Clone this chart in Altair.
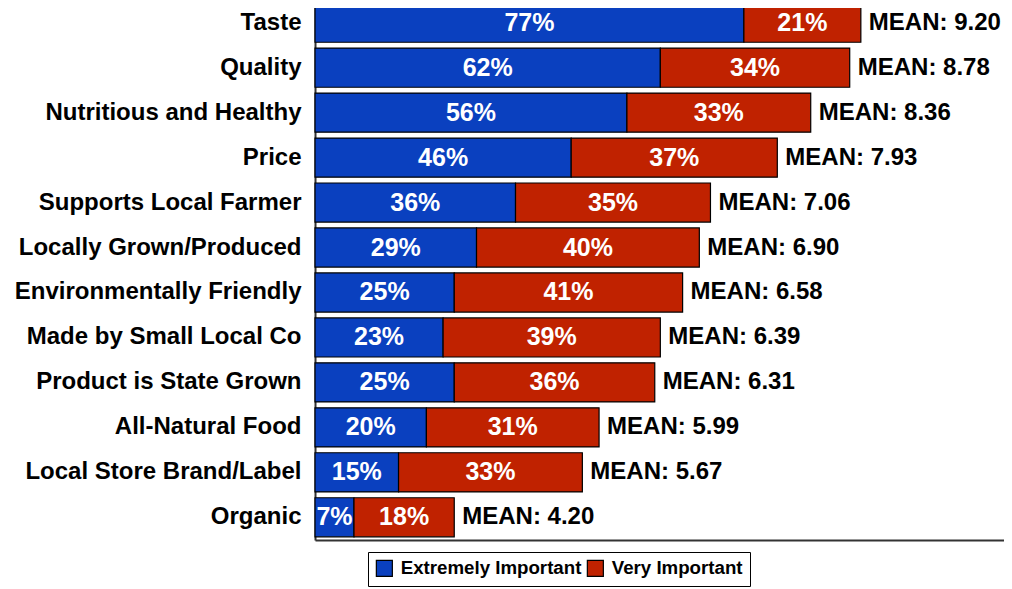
import altair as alt
import pandas as pd

categories = [
    "Taste", "Quality", "Nutritious and Healthy", "Price", "Supports Local Farmer",
    "Locally Grown/Produced", "Environmentally Friendly", "Made by Small Local Co",
    "Product is State Grown", "All-Natural Food", "Local Store Brand/Label", "Organic",
]
extremely = [77, 62, 56, 46, 36, 29, 25, 23, 25, 20, 15, 7]
very = [21, 34, 33, 37, 35, 40, 41, 39, 36, 31, 33, 18]
means = [9.20, 8.78, 8.36, 7.93, 7.06, 6.90, 6.58, 6.39, 6.31, 5.99, 5.67, 4.20]
series = ["Extremely Important", "Very Important"]
colors = ["#0a40bf", "#c02200"]

rows = []
for c, e, v in zip(categories, extremely, very):
    rows.append({"category": c, "type": series[0], "value": e, "ord": 0})
    rows.append({"category": c, "type": series[1], "value": v, "ord": 1})
df = pd.DataFrame(rows)
df_mean = pd.DataFrame({
    "category": categories,
    "total": [e + v for e, v in zip(extremely, very)],
    "mean": means,
})

FONT = "Liberation Sans"
ysc = alt.Y("category:N", sort=categories, title=None,
            scale=alt.Scale(paddingInner=0.13, paddingOuter=0.07),
            axis=alt.Axis(labelFontSize=24, labelFontWeight="bold", labelColor="black",
                          labelFont=FONT, ticks=False, labelPadding=14, domainColor="#333333",
                          domainWidth=2, labelLimit=400))
xscale = alt.Scale(domain=[0, 123.7], nice=False, zero=True)

base = alt.Chart(df).transform_stack(
    stack="value", groupby=["category"], as_=["x0", "x1"],
    sort=[alt.SortField("ord", order="ascending")],
).transform_calculate(mid="(datum.x0 + datum.x1) / 2", lbl="datum.value + '%'")

bars = base.mark_bar(stroke="black", strokeWidth=1.2).encode(
    y=ysc,
    x=alt.X("x0:Q", scale=xscale, title=None,
            axis=alt.Axis(labels=False, ticks=False, grid=False, domainColor="#333333",
                          domainWidth=2)),
    x2="x1:Q",
    color=alt.Color("type:N", scale=alt.Scale(domain=series, range=colors),
                    legend=alt.Legend(title=None, orient="none", legendX=53, legendY=552,
                                      direction="horizontal", strokeColor="black",
                                      fillColor="white", padding=7, symbolType="square",
                                      symbolSize=256, symbolStrokeColor="black",
                                      symbolStrokeWidth=1.2, symbolOpacity=1,
                                      labelFontSize=18.7, labelFontWeight="bold",
                                      labelFont=FONT, labelColor="black",
                                      labelOffset=7, columnPadding=2, labelLimit=400)),
)

labels = base.mark_text(color="white", fontWeight="bold", fontSize=25, font=FONT,
                        baseline="middle").encode(
    y=alt.Y("category:N", sort=categories),
    x=alt.X("mid:Q", scale=xscale),
    text="lbl:N",
)

mean_text = alt.Chart(df_mean).transform_calculate(
    t="'MEAN: ' + format(datum.mean, '.2f')"
).mark_text(align="left", baseline="middle", dx=8, fontWeight="bold", fontSize=24,
            font=FONT, color="black").encode(
    y=alt.Y("category:N", sort=categories),
    x=alt.X("total:Q", scale=xscale),
    text="t:N",
)

chart = alt.layer(bars, labels, mean_text).properties(
    width=689, height=540,
    autosize=alt.AutoSizeParams(type="none"),
    padding={"left": 307, "top": -8, "right": 0, "bottom": 49},
).configure_view(stroke=None)

chart.save("out.html", embed_options={"renderer": "svg", "actions": False})
